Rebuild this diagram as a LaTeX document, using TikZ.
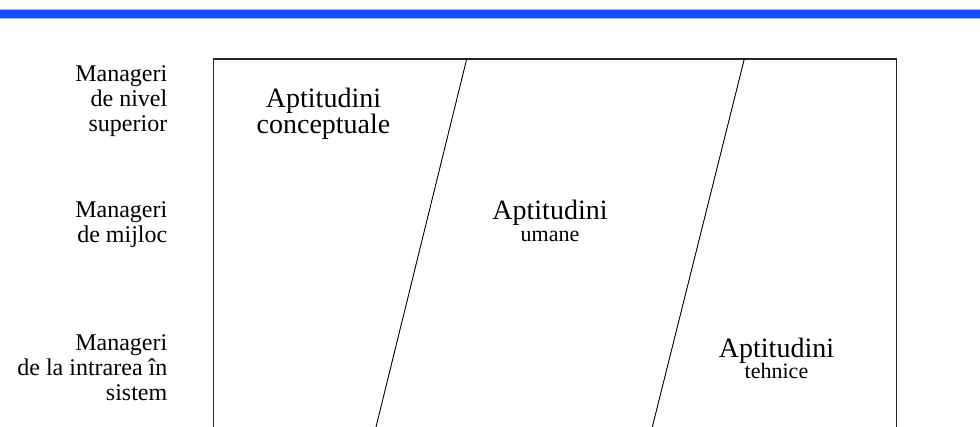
\documentclass[tikz,border=0pt]{standalone}
\usepackage{fontspec}
\setmainfont{Liberation Serif}
\definecolor{barblue}{RGB}{20,80,255}
\definecolor{baredge}{RGB}{160,185,255}
\begin{document}
\begin{tikzpicture}[x=1pt,y=-1pt,
  level/.style={anchor=base east,align=right,inner sep=0pt,font=\fontsize{24}{25}\selectfont},
  skillhead/.style={anchor=base,align=center,inner sep=0pt,font=\fontsize{28}{25}\selectfont},
  skillsub/.style={anchor=base,inner sep=0pt,font=\fontsize{22}{22}\selectfont},
  frame/.style={draw=black!85,line width=1.4pt},
  divider/.style={draw=black,line width=0.9pt}]
  \useasboundingbox (0,0) rectangle (980,427);
  % header bar
  \fill[baredge] (0,8.6) rectangle (980,19.2);
  \fill[barblue] (0,9.6) rectangle (980,18.3);
  % frame (open at the bottom)
  \coordinate (bl) at (213.7,427);
  \coordinate (tl) at (213.7,59);
  \coordinate (tr) at (896.7,59);
  \coordinate (br) at (896.7,427);
  \draw[frame] (bl) -- (tl) -- (tr) -- (br);
  % slanted dividers
  \coordinate (d1t) at (466.7,59);
  \coordinate (d1b) at (376,427);
  \coordinate (d2t) at (744.3,59);
  \coordinate (d2b) at (652.3,427);
  \draw[divider] (d1t) -- (d1b);
  \draw[divider] (d2t) -- (d2b);
  % management levels (base anchor = baseline of the last line)
  \node[level] (top) at (167.5,131.7) {Manageri\\de nivel\\superior};
  \node[level] (mid) at (167.5,243) {Manageri\\de mijloc};
  \node[level] (low) at (167.5,400.7) {Manageri\\de la intrarea în\\sistem};
  % skill areas
  \node[skillhead] (conc) at (323.5,134) {Aptitudini\\conceptuale};
  \node[skillhead] (hum) at (550,219.3) {Aptitudini};
  \node[skillsub] (humsub) at (550,242) {umane};
  \node[skillhead] (tech) at (776.5,357.3) {Aptitudini};
  \node[skillsub] (techsub) at (776.5,379) {tehnice};
\end{tikzpicture}
\end{document}
